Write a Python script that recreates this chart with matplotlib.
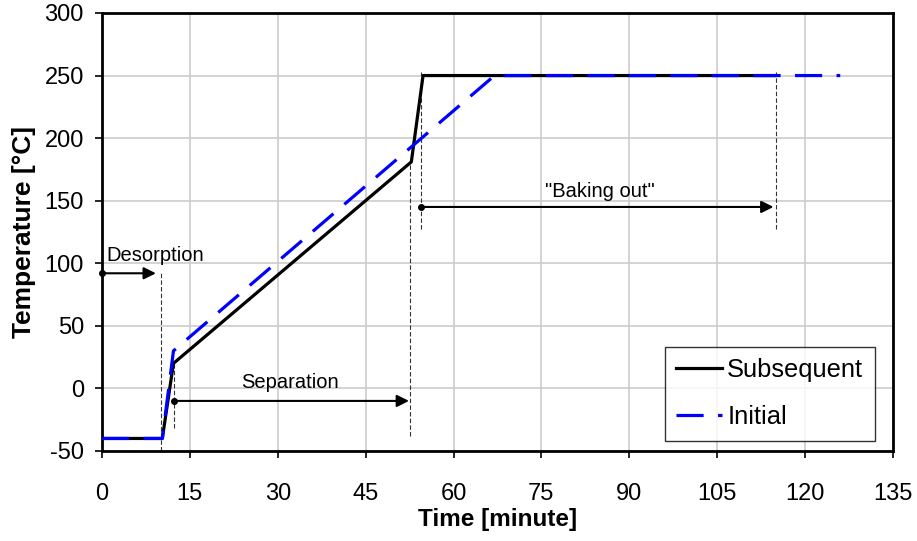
import matplotlib.pyplot as plt

# temperature programmes (time in minutes, temperature in degC)
subsequent_t = [0, 10.3, 12.2, 52.8, 54.8, 114.8]
subsequent_T = [-40, -40, 20, 181, 250, 250]
initial_t = [0, 10.3, 12.2, 67.0, 126.0]
initial_T = [-40, -40, 30, 250, 250]

# annotation markers: (start, end, y, label)
phases = [
    (0.0, 9.2, 92, "Desorption"),
    (12.3, 52.4, -10, "Separation"),
    (54.5, 114.6, 145, '"Baking out"'),
]
# guide lines: (x, y_low, y_high)
guides = [
    (10.0, -50, 92),
    (12.3, -32, 20),
    (52.6, -38, 181),
    (54.5, 127, 253),
    (115.0, 127, 253),
]

plt.rcParams['font.family'] = ['Liberation Sans', 'DejaVu Sans']
plt.rcParams['axes.unicode_minus'] = False


def main():
    fig = plt.figure(figsize=(9.17, 5.41), dpi=100)
    ax = fig.add_axes([0.1112, 0.1664, 0.8626, 0.8096])

    ax.set_xlim(0, 135)
    ax.set_ylim(-50, 300)
    ax.set_xticks(range(0, 136, 15))
    ax.set_yticks(range(-50, 301, 50))
    ax.grid(True, color='#cccccc', linewidth=1.2, zorder=0)
    ax.tick_params(labelsize=17, length=5, width=1.2)
    ax.tick_params(axis='x', pad=18)
    ax.tick_params(axis='y', pad=8)
    for s in ax.spines.values():
        s.set_linewidth(2)

    # guide lines
    for x, y0, y1 in guides:
        ax.plot([x, x], [y0, y1], color='#333333', lw=0.8, ls=(0, (4, 2)), zorder=2)

    ax.plot(subsequent_t, subsequent_T, color='black', lw=2.3, label='Subsequent', zorder=3)
    ax.plot(initial_t, initial_T, color='#0000ff', lw=2.3, dashes=(8.5, 4.5),
            label='Initial', zorder=4)

    # phase arrows
    for x0, x1, y, lab in phases:
        ax.annotate('', xy=(x1, y), xytext=(x0, y),
                    arrowprops=dict(arrowstyle='-|>', color='black', lw=1.5,
                                    mutation_scale=18, shrinkA=0, shrinkB=0),
                    zorder=5)
        ax.plot([x0], [y], 'o', color='black', ms=4, zorder=5, clip_on=False)
    ax.text(0.8, 99, phases[0][3], fontsize=14.5, ha='left', va='bottom')
    ax.text(32, -3, phases[1][3], fontsize=14.5, ha='center', va='bottom')
    ax.text(85, 150, phases[2][3], fontsize=14.5, ha='center', va='bottom')

    ax.set_xlabel('Time [minute]', fontsize=17.5, fontweight='bold', labelpad=2)
    ax.set_ylabel('Temperature [°C]', fontsize=19, fontweight='bold', labelpad=6)

    leg = ax.legend(loc='lower right', bbox_to_anchor=(0.977, 0.023), fontsize=18.4,
                    frameon=True, fancybox=False, edgecolor='black',
                    handlelength=1.8, handletextpad=0.2, borderpad=0.45,
                    labelspacing=0.9, borderaxespad=0)
    leg.get_frame().set_linewidth(1.0)

    plt.savefig('out.png', dpi=100)


if __name__ == "__main__":
    main()
